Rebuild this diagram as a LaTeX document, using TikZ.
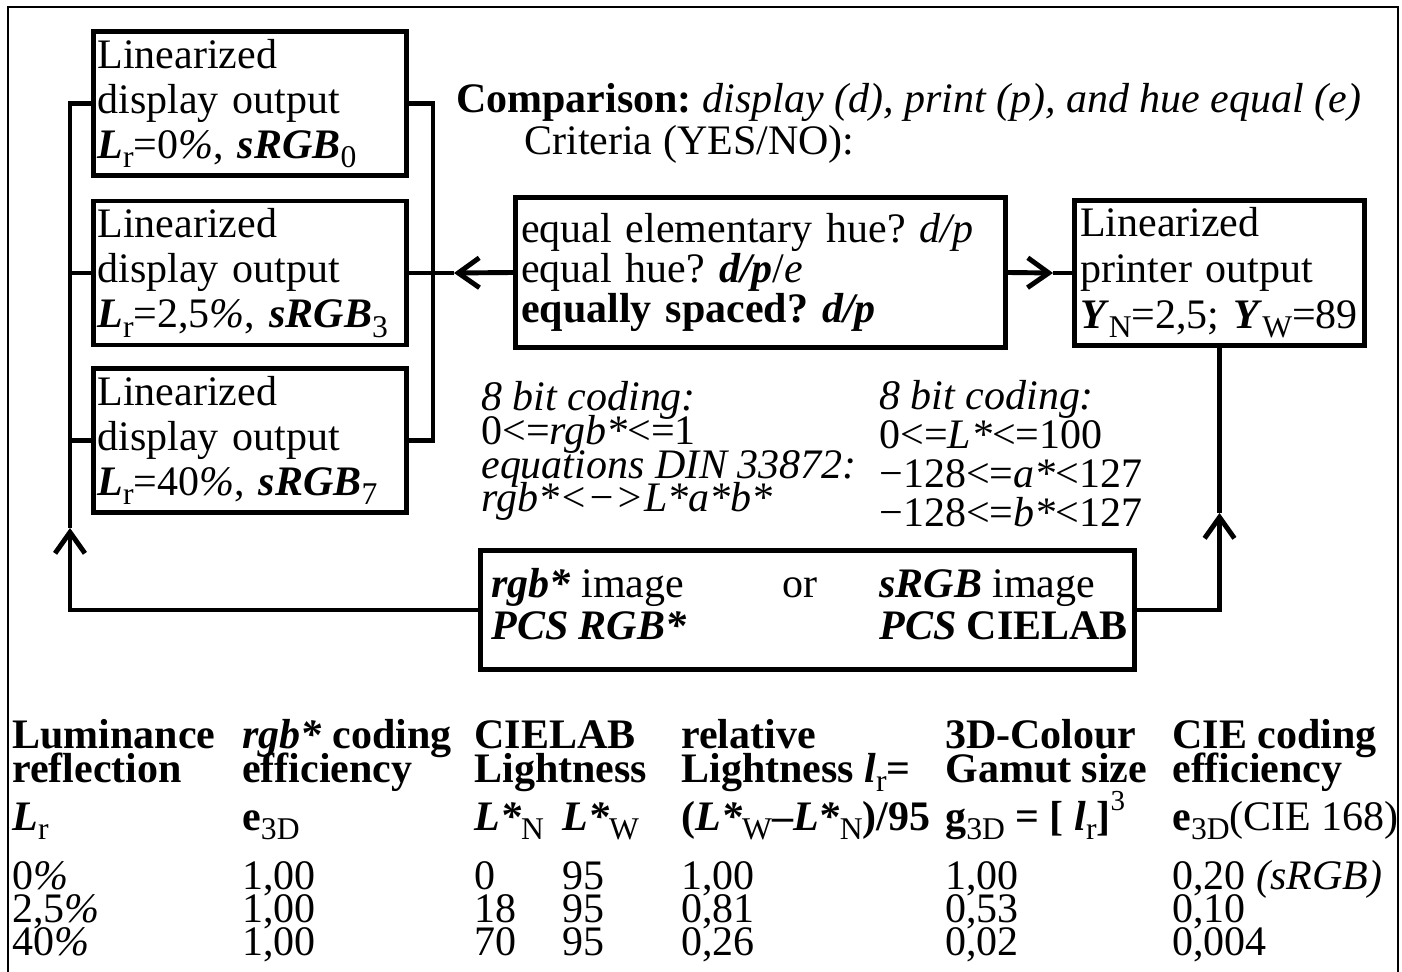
\documentclass[tikz,border=0pt]{standalone}
\usepackage{fontspec}
\setmainfont{Liberation Serif}
\usetikzlibrary{arrows.meta, positioning, calc}
\frenchspacing

\newcommand{\bi}[1]{\textbf{\textit{#1}}}
\newcommand{\fs}[2]{\fontsize{#1}{#2}\selectfont\lineskiplimit=-50pt\lineskip=0pt\relax}
\newcommand{\sbs}[1]{\raisebox{-5.5pt}{\fontsize{18}{18}\selectfont\mdseries\upshape #1}}
\newcommand{\sps}[1]{\raisebox{11pt}{\fontsize{16.5}{16.5}\selectfont\mdseries\upshape #1}}

\tikzset{
  box/.style={draw, line width=2.8pt, inner sep=0pt, align=left},
  dispbox/.style={box, minimum width=6.26cm, minimum height=2.88cm, text width=6.1cm,
    font=\fs{23.9}{25.6}},
  wire/.style={line width=2.8pt},
  arr/.style={wire, -{Straight Barb[length=12pt, width=17pt]}},
  txt/.style={anchor=base west, inner sep=0pt, align=left},
  hd/.style={txt, font=\bfseries\fs{23.9}{19.3}},
  sym/.style={txt, font=\fs{23.9}{23.9}},
  val/.style={txt, font=\fs{23.9}{18.6}},
}

\begin{document}
\begin{tikzpicture}[x=0.02cm, y=-0.02cm]
    \useasboundingbox (0,0) rectangle (1402,972);
    \draw[line width=1.2pt] (8,980) -- (8,7) -- (1398,7) -- (1398,980);

    % display outputs
    \node[dispbox] (d0) at (250,103.5) {Linearized\\display output\\\bi{L}\sbs{r}=0\textit{\%}, \bi{sRGB}\sbs{0}};
    \node[dispbox] (d1) at (250,273) {Linearized\\display output\\\bi{L}\sbs{r}=2,5\textit{\%}, \bi{sRGB}\sbs{3}};
    \node[dispbox] (d2) at (250,440.5) {Linearized\\display output\\\bi{L}\sbs{r}=40\textit{\%}, \bi{sRGB}\sbs{7}};

    % comparison
    \node[txt, font=\fs{23.9}{21.6}] (cmp) at (456,113)
      {\textbf{Comparison:} \textit{display (d), print (p), and hue equal (e)}};
    \node[txt, font=\fs{23.9}{21.6}] (crt) at (524,155) {Criteria (YES/NO):};
    \node[box, minimum width=9.8cm, minimum height=3cm, text width=9.58cm,
      font=\fs{23.9}{22.8}] (crit) at (760.5,272.5)
      {equal elementary hue? \textit{d/p}\\equal hue? \bi{d/p}/\textit{e}\\\textbf{equally spaced? \textit{d/p}}};
    \node[box, minimum width=5.8cm, minimum height=2.9cm, text width=5.58cm,
      font=\fs{23.9}{26}] (prn) at (1219.5,273)
      {Linearized\\printer output\\\bi{Y}\sbs{N}=2,5; \bi{Y}\sbs{W}=89};

    % coding
    \node[txt, font=\fs{23.9}{19.3}] (encl) at (481,512)
      {\textit{8 bit coding:}\\0<=\textit{rgb*}<=1\\\textit{equations DIN 33872:}\\\textit{rgb*<−>L*a*b*}};
    \node[txt, font=\fs{23.9}{22.2}] (encr) at (879,527)
      {\textit{8 bit coding:}\\0<=\textit{L*}<=100\\−128<=\textit{a*}<127\\−128<=\textit{b*}<127};

    % image
    \node[box, minimum width=13.08cm, minimum height=2.38cm] (img) at (807.5,610) {};
    \node[txt, font=\fs{23.9}{23.8}] (iml) at (491,639) {\bi{rgb*} image\\\bi{PCS RGB*}};
    \node[txt, font=\fs{23.9}{23.8}] (imo) at (782,597) {or};
    \node[txt, font=\fs{23.9}{23.8}] (imr) at (879,639) {\bi{sRGB} image\\\bi{PCS} \textbf{CIELAB}};

    % connectors
    \coordinate (lbus) at (70,528);
    \coordinate (rbus) at (433,273);
    \coordinate (ltip) at (454,273);
    \coordinate (rtip) at (1053,273);
    \coordinate (ptip) at (1219.5,513);
    \draw[wire] (d0.west) -- (d0.west -| lbus) -- (lbus);
    \draw[wire] (d1.west) -- (d1.west -| lbus);
    \draw[wire] (d2.west) -- (d2.west -| lbus);
    \draw[arr] (img.west) -| (lbus);
    \draw[wire] (d0.east) -- (d0.east -| rbus) -- (d2.east -| rbus) -- (d2.east);
    \draw[wire] (d1.east) -- (rbus);
    \draw[arr] (crit.west) -- (ltip);
    \draw[wire] (ltip) -- (rbus);
    \draw[arr] (crit.east) -- (rtip);
    \draw[wire] (rtip) -- (prn.west);
    \draw[arr] (img.east) -| (ptip);
    \draw[wire] (ptip) -- (prn.south);

    % table
    \node[hd] (h1) at (12,782) {Luminance\\reflection};
    \node[hd] (h2) at (242,782) {\textit{rgb*} coding\\efficiency};
    \node[hd] (h3) at (474,782) {CIELAB\\Lightness};
    \node[hd] (h4) at (681,782) {relative\\Lightness \textit{l}\sbs{r}=};
    \node[hd] (h5) at (945,782) {3D-Colour\\Gamut size};
    \node[hd] (h6) at (1172,782) {CIE coding\\efficiency};
    \node[sym] (s1) at (12,830) {\bi{L}\sbs{r}};
    \node[sym] (s2) at (242,830) {\textbf{e}\sbs{3D}};
    \node[sym] (s3) at (474,830) {\bi{L*}\sbs{N}};
    \node[sym] (s3b) at (562,830) {\bi{L*}\sbs{W}};
    \node[sym] (s4) at (681,830) {\textbf{(\textit{L*}}\sbs{W}\textbf{–\textit{L*}}\sbs{N}\textbf{)/95}};
    \node[sym] (s5) at (945,830) {\textbf{g}\sbs{3D} \textbf{= [} \bi{l}\sbs{r}\textbf{]}\sps{3}};
    \node[sym] (s6) at (1172,830) {\textbf{e}\sbs{3D}(CIE 168)};
    \node[val] (v1) at (12,955) {0\textit{\%}\\2,5\textit{\%}\\40\textit{\%}};
    \node[val] (v2) at (242,955) {1,00\\1,00\\1,00};
    \node[val] (v3) at (474,955) {0\\18\\70};
    \node[val] (v3b) at (562,955) {95\\95\\95};
    \node[val] (v4) at (681,955) {1,00\\0,81\\0,26};
    \node[val] (v5) at (945,955) {1,00\\0,53\\0,02};
    \node[val] (v6) at (1172,955) {0,20 \textit{(sRGB)}\\0,10\\0,004};
\end{tikzpicture}
\end{document}
